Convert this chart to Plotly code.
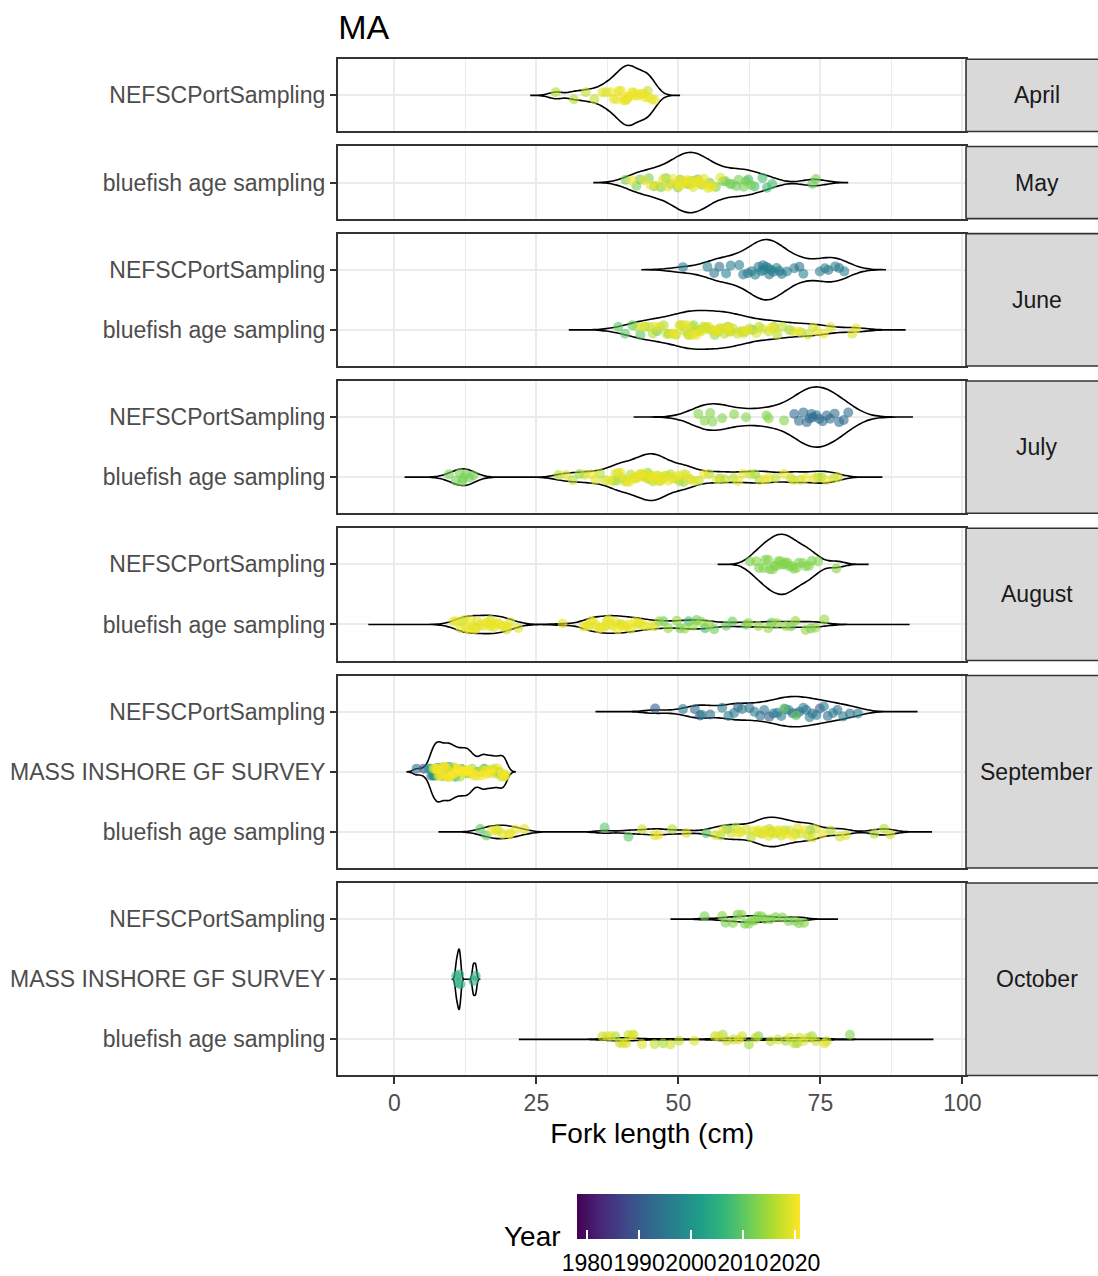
import plotly.graph_objects as go
from plotly.colors import sample_colorscale

# ---------------------------------------------------------------- data
months = ["April", "May", "June", "July", "August", "September", "October"]
SRC_NEFSC = "NEFSCPortSampling"
SRC_MASS = "MASS INSHORE GF SURVEY"
SRC_BLUE = "bluefish age sampling"

# y categories of each month panel (bottom -> top)
panel_categories = [
    [SRC_NEFSC],
    [SRC_BLUE],
    [SRC_BLUE, SRC_NEFSC],
    [SRC_BLUE, SRC_NEFSC],
    [SRC_BLUE, SRC_NEFSC],
    [SRC_BLUE, SRC_MASS, SRC_NEFSC],
    [SRC_BLUE, SRC_MASS, SRC_NEFSC],
]
x_tick_values = [0, 25, 50, 75, 100]
year_tick_values = [1980, 1990, 2000, 2010, 2020]

# fork length (cm) of sampled fish, keyed by year
apr_nefsc = {
    2016: [28.4, 31.6],
    2017: [33.7, 35.2, 44.6],
    2018: [37.3, 40.9],
    2019: [36.6, 38.6, 39.5, 40.4, 41.3, 42.1, 42.9, 43.8, 44.7, 45.8],
    2020: [38.1, 39.2, 39.9, 40.7, 41.1, 41.8, 42.4, 43.2, 44.1, 45.3],
}
may_blue = {
    2008: [62.3, 63.4, 64.8, 65.6, 66.5],
    2011: [43.2, 45.7, 47.8, 49.9, 51.6, 53.4, 55.5, 57.9, 59.1, 60.2, 61.9, 73.6],
    2012: [40.7, 42.6, 44.8, 46.9, 48.6, 50.3, 51.3, 52.4, 54.1, 56.6, 58.3, 59.4, 60.6, 61.5, 62.8, 74.2],
    2019: [43.9, 46.2, 47.3, 48.1, 49.5, 50.4, 51.1, 51.9, 52.2, 52.6, 53.2, 53.9, 54.5, 55.2, 56.1, 57.4],
    2020: [41.8, 45.1, 49.0, 50.1, 50.8, 51.5, 52.9, 53.6, 54.8, 55.7],
}
jun_nefsc = {
    1994: [57.2, 62.2, 64.9, 66.0, 67.8, 71.3, 76.4, 78.3],
    1996: [50.8, 56.3, 59.2, 61.4, 62.9, 64.1, 65.0, 65.8, 66.7, 68.2, 70.4, 74.9, 77.6],
    1997: [55.1, 58.4, 60.7, 63.5, 64.6, 65.4, 66.3, 67.3, 69.1, 72.0, 75.8, 79.2],
}
jun_blue = {
    2010: [39.4, 40.6, 41.9, 43.3, 46.2, 58.7, 63.1],
    2014: [44.1, 48.3, 52.7, 56.4, 61.2, 66.8, 69.5],
    2016: [42.7, 45.5, 47.4, 49.6, 51.2, 52.3, 53.8, 55.0, 56.9, 58.1, 59.6, 61.8, 64.2, 67.4, 71.6],
    2017: [44.9, 47.9, 50.4, 51.7, 53.1, 54.4, 55.6, 57.3, 59.0, 60.4, 62.6, 65.9, 68.3, 72.8],
    2018: [46.8, 49.1, 50.9, 52.0, 53.5, 54.9, 56.2, 57.8, 59.3, 61.5, 64.7, 70.1, 73.7],
    2019: [45.9, 48.8, 50.2, 52.5, 54.1, 55.3, 57.0, 58.5, 60.9, 63.7, 67.0, 74.4, 76.8, 80.6],
    2020: [43.8, 49.4, 51.5, 53.2, 56.6, 58.9, 62.1, 66.2, 71.1, 75.6, 81.3],
}
jul_nefsc = {
    1993: [70.4, 71.2, 72.0, 72.6, 73.1, 73.4, 73.7, 74.3, 74.8, 75.4, 76.1, 76.7, 77.5, 78.3, 79.1, 79.9],
    2013: [53.5, 54.6, 55.6, 56.0, 57.7, 59.8, 61.9, 65.5, 65.9, 68.6],
}
jul_blue = {
    2012: [9.6, 10.8, 11.5, 11.9, 12.1, 12.6, 13.2, 13.9],
    2014: [32.6, 39.1, 44.6, 50.9, 57.3, 63.5, 75.2],
    2016: [28.9, 31.4, 36.2, 38.5, 40.1, 41.6, 42.8, 43.9, 44.7, 45.5, 46.4, 47.3, 48.6, 50.2, 52.1,
           55.4, 59.7, 64.3, 69.8, 74.6],
    2017: [33.5, 37.1, 39.4, 40.9, 42.2, 43.4, 44.3, 45.1, 45.9, 46.8, 47.9, 49.4, 51.3, 53.6, 58.2,
           62.7, 67.1, 71.5, 77.3],
    2019: [30.2, 35.4, 38.9, 40.5, 41.9, 43.1, 44.0, 44.9, 45.7, 46.6, 47.6, 48.9, 50.7, 52.9, 56.8,
           61.4, 66.0, 70.3, 73.9, 78.1],
    2020: [34.7, 37.8, 39.8, 41.3, 42.5, 43.6, 45.3, 46.1, 47.0, 48.2, 49.8, 51.8, 54.5, 60.5, 65.2,
           68.6, 72.4, 76.0],
}
aug_nefsc = {
    2012: [62.6, 64.2, 65.3, 66.1, 66.9, 67.6, 68.2, 68.8, 69.5, 70.3, 71.2, 72.4, 73.5],
    2013: [63.7, 65.0, 65.8, 66.6, 67.3, 68.0, 68.6, 69.2, 70.0, 70.8, 71.9, 73.0, 74.6, 77.8],
}
aug_blue = {
    2008: [51.8, 54.7],
    2011: [47.4, 50.3, 53.2, 56.3, 58.4, 59.5, 61.9, 66.4, 69.8, 73.3],
    2014: [46.6, 48.2, 49.7, 51.1, 52.6, 54.0, 55.4, 62.3, 64.1, 65.8, 67.3, 68.9, 70.6, 72.4, 74.1, 75.7],
    2017: [11.9, 14.4, 16.9, 19.7, 34.2, 37.4, 40.0, 43.0, 45.8],
    2019: [10.4, 11.6, 12.3, 13.1, 13.8, 14.6, 15.2, 16.1, 16.8, 17.5, 18.3, 19.2, 20.4, 21.8,
           33.3, 34.6, 35.5, 36.4, 37.2, 38.1, 38.9, 39.8, 40.7, 41.6, 42.8, 44.1],
    2020: [10.9, 12.7, 13.4, 14.1, 15.7, 16.5, 17.2, 18.0, 18.9, 20.0,
           29.6, 33.9, 35.0, 36.0, 36.9, 37.7, 38.5, 39.3, 40.3, 41.2, 42.3, 43.5, 45.1],
}
sep_nefsc = {
    1990: [45.9, 53.8, 60.5, 66.0, 70.1, 74.9],
    1993: [52.9, 55.6, 62.5, 64.4, 67.4, 68.8, 71.3, 72.5, 73.6, 76.3, 78.0, 80.2],
    1996: [50.8, 54.1, 57.7, 58.8, 59.8, 61.2, 63.4, 65.1, 66.7, 68.1, 69.4, 70.8, 72.0, 73.1, 74.3,
           75.6, 77.2, 79.0, 81.6],
    2011: [68.6, 70.7],
}
sep_mass = {
    1978: [8.1],
    1988: [5.2, 7.0],
    1993: [3.9, 6.5, 9.6],
    2000: [6.1, 6.8, 7.6, 8.4, 9.9, 11.8, 14.6, 17.3],
    2003: [6.4, 7.3, 8.9, 10.7, 12.9, 15.8, 18.4],
    2015: [7.9, 9.2, 10.4, 11.5, 12.6, 13.7, 15.1, 16.6, 18.0, 19.3],
    2018: [6.9, 7.7, 8.6, 9.4, 10.1, 10.9, 11.7, 12.4, 13.2, 14.1, 15.4, 16.3, 17.6, 18.8, 19.6],
    2020: [7.2, 8.0, 8.8, 9.5, 10.3, 11.1, 11.9, 12.7, 13.5, 14.8, 16.0, 17.1, 18.2, 19.4],
    2021: [7.5, 8.3, 9.1, 9.8, 10.6, 11.3, 12.2, 13.0, 13.9, 15.6, 16.9, 19.0],
}
sep_blue = {
    2010: [15.1, 16.2, 37.0, 41.2, 54.9, 58.6, 66.3, 73.2],
    2016: [48.9, 57.4, 60.1, 62.8, 64.5, 66.0, 67.4, 68.7, 70.6, 72.9, 76.8, 84.5, 86.2],
    2018: [17.9, 20.4, 43.6, 56.5, 59.3, 61.9, 63.9, 65.2, 66.8, 68.1, 69.6, 71.5, 74.1, 78.4, 87.3],
    2019: [18.3, 19.0, 22.9, 45.8, 51.4, 57.9, 61.0, 63.1, 64.8, 65.9, 67.7, 69.1, 71.0, 73.6, 79.5],
    2020: [17.2, 20.1, 21.3, 46.5, 60.6, 64.1, 65.6, 67.0, 68.4, 70.2, 72.3, 75.3],
}
oct_nefsc = {
    2012: [54.6, 58.3, 60.4, 61.7, 62.9, 64.0, 65.3, 67.1, 69.4, 71.2],
    2013: [57.7, 59.6, 61.1, 62.4, 63.5, 64.6, 66.2, 68.3, 70.5, 72.1],
}
oct_mass = {
    2005: [10.9, 11.2, 11.4, 11.6, 13.9, 14.3],
}
oct_blue = {
    2013: [64.1, 70.9, 80.2],
    2015: [38.9, 47.3, 57.8, 62.4, 68.9, 73.5],
    2017: [36.6, 39.7, 41.2, 45.8, 50.1, 56.4, 59.7, 63.6, 66.2, 70.4, 72.8, 76.1],
    2018: [37.4, 40.3, 42.1, 48.6, 58.5, 61.2, 67.5, 71.3, 74.2],
    2019: [38.1, 40.8, 41.9, 43.6, 52.8, 57.1, 60.6, 69.6, 72.0, 75.7],
}

# (panel index, source, data)
groups = [
    (0, SRC_NEFSC, apr_nefsc),
    (1, SRC_BLUE, may_blue),
    (2, SRC_NEFSC, jun_nefsc), (2, SRC_BLUE, jun_blue),
    (3, SRC_NEFSC, jul_nefsc), (3, SRC_BLUE, jul_blue),
    (4, SRC_NEFSC, aug_nefsc), (4, SRC_BLUE, aug_blue),
    (5, SRC_NEFSC, sep_nefsc), (5, SRC_MASS, sep_mass), (5, SRC_BLUE, sep_blue),
    (6, SRC_NEFSC, oct_nefsc), (6, SRC_MASS, oct_mass), (6, SRC_BLUE, oct_blue),
]

# ---------------------------------------------------------------- style
# violin smoothing: (span bandwidth -> tails reach 3 bw, kde bandwidth)
violin_bw = [
    (1.45, 1.2), (1.85, 2.0),
    (2.4, 2.4), (2.9, 2.2),
    (3.75, 2.8), (2.6, 1.6),
    (1.85, 1.4), (5.0, 1.6),
    (3.5, 2.0), (0.55, 0.6), (2.45, 1.5),
    (2.0, 1.3), (0.23, 0.2), (4.9, 1.8),
]

FONT = "Liberation Sans, Arial, sans-serif"
W, H = 1098, 1276
PANEL_L, PANEL_R = 338.3, 966.0
PANEL_TOP = 59.3
UNIT = 60.14
GAP = 15.0
STRIP_TEXT_X = 1036.5
X_RANGE = [-9.88, 100.63]
BORDER = "#333333"
GRID = "#EBEBEB"
LW = 1.6
CB_L, CB_R, CB_T, CB_B = 576.7, 800.0, 1191.0, 1236.0

all_years = [y for _, _, d in groups for y in d]
YMIN, YMAX = min(all_years), max(all_years)


def year_color(y):
    return sample_colorscale("Viridis", [(y - YMIN) / (YMAX - YMIN)])[0]


fig = go.Figure()


def ax_ref(i):
    return ("x", "y") if i == 0 else (f"x{i+1}", f"y{i+1}")


# violins (outlines)
for (pi, src, d), (sbw, kbw) in zip(groups, violin_bw):
    xr, yr = ax_ref(pi)
    vals = [v for yv in sorted(d) for v in d[yv]]
    fig.add_trace(go.Violin(
        x=vals, y=[src] * len(vals), orientation="h", xaxis=xr, yaxis=yr,
        points=False, line=dict(color="black", width=LW),
        fillcolor="rgba(0,0,0,0)", scalegroup=months[pi], scalemode="width",
        bandwidth=kbw, spanmode="manual",
        span=[min(vals) - 3 * sbw, max(vals) + 3 * sbw],
        box_visible=False, meanline_visible=False, side="both",
        hoverinfo="skip", showlegend=False,
    ))

# jittered points, one trace per year (colour by year)
for pi, src, d in groups:
    xr, yr = ax_ref(pi)
    for yv in sorted(d):
        vals = d[yv]
        fig.add_trace(go.Box(
            x=vals, y=[src] * len(vals), orientation="h", xaxis=xr, yaxis=yr,
            boxpoints="all", jitter=0.2, pointpos=0,
            fillcolor="rgba(0,0,0,0)", line=dict(width=0, color="rgba(0,0,0,0)"),
            whiskerwidth=0,
            marker=dict(color=year_color(yv), opacity=0.6, size=10, line=dict(width=0)),
            hoveron="points", name=str(yv), showlegend=False,
        ))

# colour bar: first one carries the labels, second one (on top) the white tick marks
cb_common = dict(
    orientation="h", x=(CB_L + CB_R) / 2 / W, xanchor="center",
    y=1 - (CB_T + 3) / H, yanchor="top",
    len=(CB_R - CB_L) / W, lenmode="fraction",
    thickness=CB_B - CB_T, thicknessmode="pixels",
    xpad=0, ypad=0, outlinewidth=0,
    tickmode="array", tickvals=year_tick_values, tickangle=0,
    tickfont=dict(size=23, color="black", family=FONT),
    title=dict(text=""),
)
for cb_extra in (
    dict(ticks="outside", ticklen=5, tickwidth=LW, tickcolor="rgba(0,0,0,0)"),
    dict(ticks="inside", ticklen=9, tickwidth=LW, tickcolor="white", showticklabels=False),
):
    fig.add_trace(go.Scatter(
        x=[None, None], y=[SRC_NEFSC, SRC_NEFSC], mode="markers", xaxis="x", yaxis="y",
        hoverinfo="skip", showlegend=False,
        marker=dict(color=[YMIN, YMAX], colorscale="Viridis", cmin=YMIN, cmax=YMAX,
                    showscale=True, colorbar=dict(**cb_common, **cb_extra)),
    ))

layout = dict(
    width=W, height=H, autosize=False,
    margin=dict(l=0, r=0, t=0, b=0, autoexpand=False),
    paper_bgcolor="white", plot_bgcolor="white",
    font=dict(family=FONT),
    violinmode="overlay", violingap=0, violingroupgap=0,
    boxmode="overlay", boxgap=0, boxgroupgap=0,
    title=dict(text="MA", x=PANEL_L / W, xanchor="left", xref="paper",
               y=1 - 27 / H, yanchor="middle", yref="paper",
               font=dict(size=34, color="black", family=FONT)),
)

shapes, annotations = [], []
top = PANEL_TOP
for i, cats in enumerate(panel_categories):
    n = len(cats)
    h = (n + 0.2) * UNIT
    y_top, y_bot = top, top + h
    top = y_bot + GAP
    dom = [1 - y_bot / H, 1 - y_top / H]
    sfx = "" if i == 0 else str(i + 1)
    is_bottom = i == len(panel_categories) - 1
    xa = dict(
        domain=[PANEL_L / W, PANEL_R / W], anchor="y" + sfx, range=X_RANGE,
        tickmode="array", tickvals=x_tick_values,
        showticklabels=is_bottom, ticks="outside" if is_bottom else "",
        ticklen=6.6, tickwidth=LW, tickcolor=BORDER,
        tickfont=dict(size=23, color="#4D4D4D", family=FONT),
        showgrid=True, gridcolor=GRID, gridwidth=LW,
        minor=dict(tickmode="array", tickvals=[12.5, 37.5, 62.5, 87.5],
                   showgrid=True, gridcolor=GRID, gridwidth=0.8),
        zeroline=False, showline=True, linecolor=BORDER, linewidth=LW, mirror=True,
        fixedrange=True,
    )
    if i > 0:
        xa["matches"] = "x"
    if is_bottom:
        xa["title"] = dict(text="Fork length (cm)", standoff=8,
                           font=dict(size=28, color="black", family=FONT))
    layout["xaxis" + sfx] = xa
    layout["yaxis" + sfx] = dict(
        domain=dom, anchor="x" + sfx, type="category",
        categoryorder="array", categoryarray=cats, range=[-0.6, n - 0.4],
        ticks="outside", ticklen=6.6, tickwidth=LW, tickcolor=BORDER,
        tickfont=dict(size=23, color="#4D4D4D", family=FONT),
        showgrid=True, gridcolor=GRID, gridwidth=LW,
        zeroline=False, showline=True, linecolor=BORDER, linewidth=LW, mirror=True,
        fixedrange=True, automargin=False,
    )
    # facet strip (runs off the right edge of the figure, as in the original)
    shapes.append(dict(type="rect", xref="paper", yref="paper",
                       x0=PANEL_R / W, x1=1.0, y0=dom[0], y1=dom[1],
                       fillcolor="#D9D9D9", line=dict(width=0), layer="above"))
    for (xa0, ya0, xa1, ya1) in ((PANEL_R / W, dom[0], 1.0, dom[0]),
                                 (PANEL_R / W, dom[1], 1.0, dom[1]),
                                 (PANEL_R / W, dom[0], PANEL_R / W, dom[1])):
        shapes.append(dict(type="line", xref="paper", yref="paper",
                           x0=xa0, y0=ya0, x1=xa1, y1=ya1,
                           line=dict(color=BORDER, width=LW), layer="above"))
    annotations.append(dict(text=months[i], xref="paper", yref="paper",
                            x=STRIP_TEXT_X / W, y=(dom[0] + dom[1]) / 2,
                            xanchor="center", yanchor="middle", showarrow=False,
                            font=dict(size=23, color="#1A1A1A", family=FONT)))

annotations.append(dict(text="Year", xref="paper", yref="paper",
                        x=532 / W, y=1 - 1236 / H, xanchor="center", yanchor="middle",
                        showarrow=False, font=dict(size=28, color="black", family=FONT)))

layout["shapes"] = shapes
layout["annotations"] = annotations
fig.update_layout(**layout)

fig.write_html(
    "out.html",
    config={"responsive": False, "displayModeBar": False},
    post_script="document.body.style.margin='0px';document.body.style.overflow='hidden';",
)
